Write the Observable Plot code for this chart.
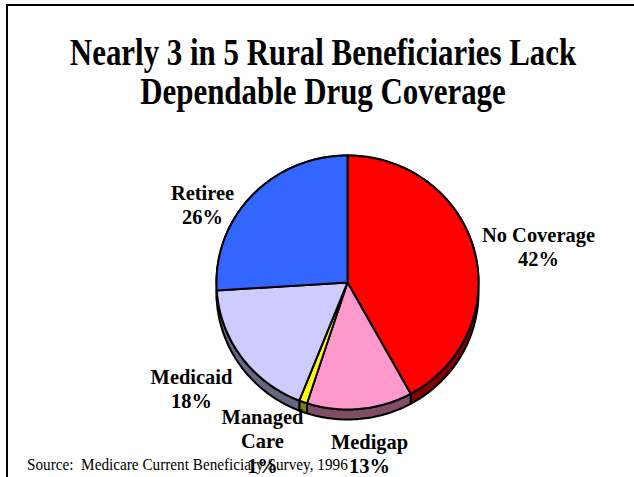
<!DOCTYPE html>
<html><head><meta charset="utf-8">
<script src="https://cdn.jsdelivr.net/npm/d3@7"></script>
<script src="https://cdn.jsdelivr.net/npm/@observablehq/plot@0.6"></script>
<style>
body{margin:0;background:#fff;}
#wrap{position:relative;width:634px;height:477px;overflow:hidden;background:#fff;font-family:"Liberation Serif","Times New Roman",serif;color:#000;}
#frame{position:absolute;left:6px;top:4px;width:700px;height:600px;border:2px solid #000;box-sizing:border-box;}
#title{position:absolute;left:6px;width:634px;top:33px;text-align:center;font-weight:bold;font-size:37px;line-height:39px;transform:scaleX(0.835);white-space:nowrap;}
#chart{position:absolute;left:0;top:0;}
#source{position:absolute;left:27px;top:454px;font-size:17.5px;line-height:20px;transform:scaleX(0.87);transform-origin:left center;white-space:pre;}
</style></head>
<body>
<div id="wrap">
  <div id="frame"></div>
  <div id="chart"></div>
  <div id="title">Nearly 3 in 5 Rural Beneficiaries Lack<br>Dependable Drug Coverage</div>
  <div id="source">Source:  Medicare Current Beneficiary Survey, 1996</div>
</div>
<script>
// ---- data ----
const categories = ["No Coverage", "Medigap", "Managed\nCare", "Medicaid", "Retiree"];
const shares = [42, 13, 1, 18, 26];
const colors = ["#FF0000", "#FF99CC", "#FFFF00", "#CCCCFF", "#3366FF"];

// ---- layout (label anchors in pie units, not data) ----
const labelAnchors = [[1.458, 0.287], [0.168, -1.343], [-0.649, -1.244], [-1.191, -0.831], [-1.107, 0.618]];
const depth = 0.079;

const darker = c => { const r = d3.rgb(c); return d3.rgb(r.r / 2, r.g / 2, r.b / 2).formatHex(); };
const arcs = d3.pie().sort(null).value(d => d)(shares);
const arcPts = (a0, a1) => {
  const n = Math.max(2, Math.ceil((a1 - a0) / (Math.PI / 180)));
  return d3.range(n + 1).map(i => a0 + (a1 - a0) * i / n);
};
const faces = [], bands = [];
arcs.forEach((a, i) => {
  const pts = arcPts(a.startAngle, a.endAngle);
  faces.push({id: "f" + i, x: 0, y: 0, fill: colors[i]});
  pts.forEach(t => faces.push({id: "f" + i, x: Math.sin(t), y: Math.cos(t), fill: colors[i]}));
  pts.forEach(t => bands.push({id: "b" + i, x: Math.sin(t), y: Math.cos(t), fill: darker(colors[i])}));
  pts.slice().reverse().forEach(t => bands.push({id: "b" + i, x: Math.sin(t), y: Math.cos(t) - depth, fill: darker(colors[i])}));
});
const labels = categories.map((c, i) => ({text: c + "\n" + shares[i] + "%", x: labelAnchors[i][0], y: labelAnchors[i][1]}));

const plot = Plot.plot({
  width: 634, height: 477, margin: 0,
  x: {domain: [-1, 1], range: [216, 478], axis: null},
  y: {domain: [-1, 1], range: [409, 155], axis: null},
  style: {background: "transparent"},
  marks: [
    Plot.line(bands, {x: "x", y: "y", z: "id", fill: "fill", stroke: "#000", strokeWidth: 2, curve: "linear-closed", strokeLinejoin: "round"}),
    Plot.line(faces, {x: "x", y: "y", z: "id", fill: "fill", stroke: "#000", strokeWidth: 2, curve: "linear-closed", strokeLinejoin: "round"}),
    Plot.text(labels, {x: "x", y: "y", text: "text", fontSize: 22, fontWeight: "bold", lineHeight: 1.12, fontFamily: "Liberation Serif, Times New Roman, serif", fill: "#000"})
  ]
});
document.getElementById("chart").appendChild(plot);
d3.select(plot).selectAll("g[aria-label=text] text").each(function() {
  const bb = this.getBBox();
  const cx = bb.x + bb.width / 2;
  const t = this.getAttribute("transform") || "";
  this.setAttribute("transform", `${t} translate(${cx},0) scale(0.93,1) translate(${-cx},0)`);
});
</script>
</body></html>
